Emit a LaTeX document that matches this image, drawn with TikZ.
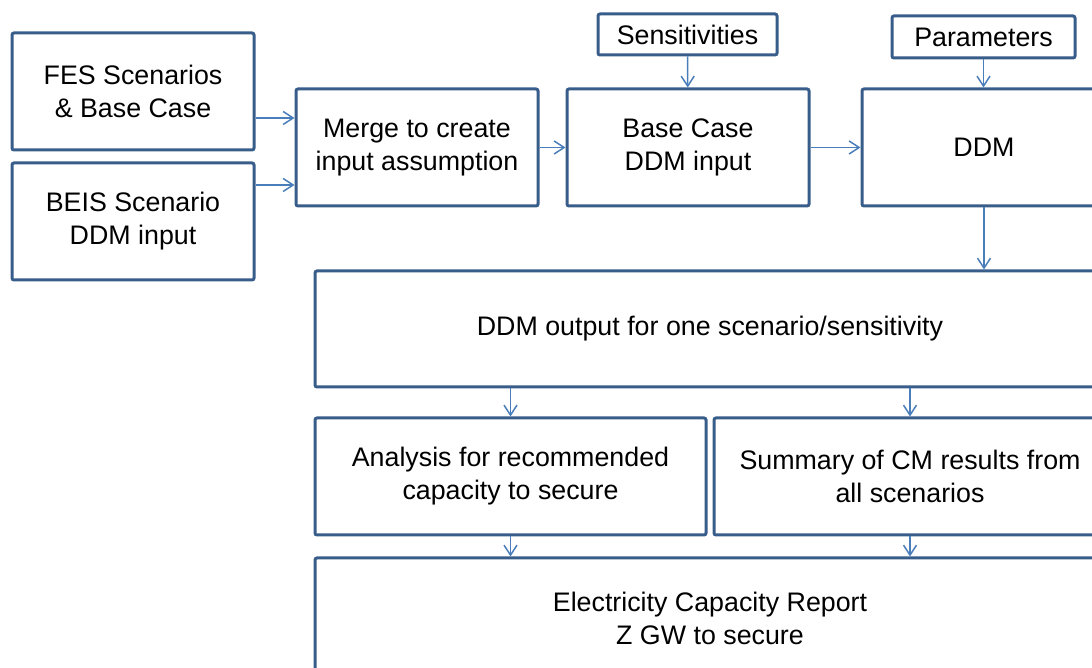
\documentclass[tikz,border=0pt]{standalone}
\usepackage{fontspec}
\setmainfont{Liberation Sans}
\usetikzlibrary{arrows.meta, positioning}
\definecolor{boxline}{RGB}{56, 93, 138}
\definecolor{flowline}{RGB}{74, 126, 187}
\definecolor{textdark}{RGB}{0, 0, 0}

\begin{document}
\begin{tikzpicture}[
    x=0.5pt, y=0.5pt,
    box/.style={rectangle, draw=boxline, fill=white, rounded corners=1pt, minimum width=121pt, minimum height=58.5pt, align=center, font=\fontsize{13.4}{16.5}\selectfont, line width=1.5pt, text=textdark},
    smallbox/.style={box, minimum height=20.5pt},
    arrow/.style={-{Straight Barb[length=5pt, width=6.5pt]}, line width=0.75pt, color=flowline}
]
\useasboundingbox (0,0) rectangle (1092,668);
\clip (0,0) rectangle (1092,668);

% Input Layer
\node[box] (fes) at (133, 576.5) {FES Scenarios\\\& Base Case};
\node[box] (beis) at (133, 446.5) {BEIS Scenario\\DDM input};

% Model Layer
\node[box] (merge) at (417, 520.5) {Merge to create\\input assumption};
\node[box] (base) at (688, 520.5) {Base Case\\DDM input};
\node[box, minimum width=122pt] (ddm) at (984, 520.5) {DDM};
\node[smallbox, minimum width=89.5pt] (sens) at (687.5, 633.5) {Sensitivities};
\node[smallbox, minimum width=91.5pt, minimum height=21pt] (param) at (983.5, 631) {Parameters};

% Output Layer
\node[box, minimum width=395pt, minimum height=58pt] (output) at (710, 339) {DDM output for one scenario/sensitivity};
\node[box, minimum width=195.5pt] (analysis) at (510.5, 191.5) {Analysis for recommended\\capacity to secure};
\node[box, minimum width=196pt] (summary) at (910, 191.5) {Summary of CM results from\\all scenarios};
\node[box, minimum width=395pt, minimum height=60pt] (report) at (710, 50) {Electricity Capacity Report\\Z GW to secure};

% Arrows into Merge
\coordinate (mergein1) at ([yshift=14.75pt]merge.west);
\coordinate (mergein2) at ([yshift=-18.75pt]merge.west);
\draw[arrow] (fes.east |- mergein1) -- (mergein1);
\draw[arrow] (beis.east |- mergein2) -- (mergein2);

% Arrows along the top row
\draw[arrow] (merge) -- (base);
\draw[arrow] (base) -- (ddm);
\draw[arrow] (sens) -- (base);
\draw[arrow] (param.south) -- (param.south |- ddm.north);
\draw[arrow] (ddm.south) -- (ddm.south |- output.north);

% Arrows down to the report
\draw[arrow] (output.south -| analysis) -- (analysis);
\draw[arrow] (output.south -| summary) -- (summary);
\draw[arrow] (analysis) -- (analysis |- report.north);
\draw[arrow] (summary) -- (summary |- report.north);

\end{tikzpicture}
\end{document}
